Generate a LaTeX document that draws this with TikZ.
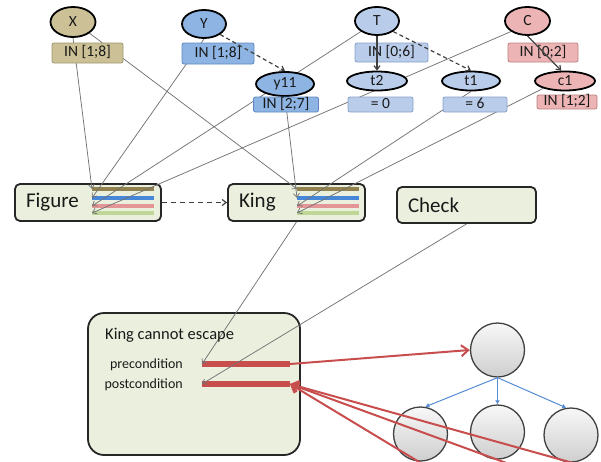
\documentclass[tikz,border=0pt]{standalone}
\usepackage{fontspec}
\setmainfont{Carlito}
\usetikzlibrary{arrows.meta,shapes.geometric}
\definecolor{xfill}{RGB}{203,192,150}
\definecolor{xedge}{RGB}{160,150,110}
\definecolor{yfill}{RGB}{141,180,226}
\definecolor{yedge}{RGB}{95,135,195}
\definecolor{tfill}{RGB}{185,205,235}
\definecolor{tedge}{RGB}{135,160,200}
\definecolor{cfill}{RGB}{236,180,180}
\definecolor{cedge}{RGB}{190,130,130}
\definecolor{panelfill}{RGB}{235,240,222}
\definecolor{wire}{RGB}{115,115,115}
\definecolor{barred}{RGB}{200,78,78}
\definecolor{treeblue}{RGB}{85,140,210}
\definecolor{stripeolive}{RGB}{145,130,80}
\definecolor{stripeblue}{RGB}{70,135,215}
\definecolor{stripepink}{RGB}{228,150,150}
\definecolor{stripegreen}{RGB}{190,215,150}
\pgfdeclarelayer{back}
\pgfdeclarelayer{wires}
\pgfsetlayers{back,wires,main}

\begin{document}
\begin{tikzpicture}[x=1pt,y=-1pt,
  var/.style={ellipse,draw=black,line width=1.8pt,inner sep=0pt,
    font=\fontsize{15.5}{18}\selectfont,text=black!90},
  dom/.style={rectangle,rounded corners=2pt,line width=0.8pt,inner sep=0pt,
    text height=9.5pt,text depth=2.5pt,font=\fontsize{15.5}{18}\selectfont,text=black!90},
  panel/.style={rectangle,rounded corners=5pt,draw=black!85,line width=1.8pt,
    fill=panelfill,inner xsep=11pt,align=left,
    font=\fontsize{21}{25}\selectfont,text=black!90},
  wirearrow/.style={draw=wire,line width=0.75pt,-{Straight Barb[length=4pt,width=6pt]}},
  stripe/.style={line width=3.5pt},
  bar/.style={draw=barred,line width=6pt},
  redarrow/.style={draw=barred,line width=2pt,
    -{Straight Barb[length=7pt,width=11pt,line width=2pt]}},
  treenode/.style={circle,draw=black!75,line width=1.3pt,top color=gray!6,
    bottom color=gray!38,minimum size=54pt,inner sep=0pt},
  treeedge/.style={draw=treeblue,line width=1pt,-{Latex[length=4pt,width=5pt]}},
  link/.style={draw=black!75,line width=1.2pt,-{Straight Barb[length=4pt,width=6pt]}},
  condtext/.style={inner sep=0pt,text=black!90},
]
\useasboundingbox (0,0) rectangle (601,461);
\clip (0,0) rectangle (601,461);

% ---- variables and their domains
\node[var,fill=xfill,minimum width=45pt,minimum height=30pt] (X) at (73,22) {X};
\node[dom,fill=xfill,draw=xedge,minimum width=71pt,minimum height=20pt] (Xd) at (87.5,53) {IN [1;8]};

\node[var,fill=yfill,minimum width=44pt,minimum height=28pt] (Y) at (204,24) {Y};
\node[dom,fill=yfill,draw=yedge,minimum width=72pt,minimum height=21pt] (Yd) at (218,53.5) {IN [1;8]};
\node[var,fill=yfill,minimum width=58pt,minimum height=24pt] (y11) at (285,84) {y11};
\node[dom,fill=yfill,draw=yedge,minimum width=65pt,minimum height=15pt] (y11d) at (286,104.5) {IN [2;7]};

\node[var,fill=tfill,minimum width=44pt,minimum height=28pt] (T) at (377,21) {T};
\node[dom,fill=tfill,draw=tedge,minimum width=73pt,minimum height=19pt] (Td) at (391.5,52.5) {IN [0;6]};
\node[var,fill=tfill,minimum width=60pt,minimum height=19pt] (t2) at (377,81) {t2};
\node[dom,fill=tfill,draw=tedge,minimum width=65pt,minimum height=15pt] (t2d) at (380.5,104.5) {= 0};
\node[var,fill=tfill,minimum width=58pt,minimum height=19pt] (t1) at (471,81) {t1};
\node[dom,fill=tfill,draw=tedge,minimum width=64pt,minimum height=15pt] (t1d) at (475,104.5) {= 6};

\node[var,fill=cfill,minimum width=45pt,minimum height=28pt] (C) at (527.5,21) {C};
\node[dom,fill=cfill,draw=cedge,minimum width=70pt,minimum height=19pt] (Cd) at (543,52.5) {IN [0;2]};
\node[var,fill=cfill,minimum width=60pt,minimum height=19pt] (c1) at (565,81) {c1};
\node[dom,fill=cfill,draw=cedge,minimum width=60pt,minimum height=14pt] (c1d) at (567,102) {IN [1;2]};

% ---- constraint panels, condition box and tree
\begin{pgfonlayer}{back}
\node[panel,text width=124pt,minimum height=37pt] (fig) at (88,202.5) {Figure};
\node[panel,text width=115pt,minimum height=37pt] (king) at (296.5,202.5) {King};
\node[panel,text width=117pt,minimum height=36pt] (check) at (466.5,205) {Check};
\node[rectangle,rounded corners=16pt,draw=black!85,line width=1.8pt,fill=panelfill,
  minimum width=212pt,minimum height=142pt] (cond) at (194,384) {};

\coordinate (fa) at (92,189); \coordinate (fb) at (92,198);
\coordinate (fc) at (92,206); \coordinate (fd) at (92,213);
\coordinate (ka) at (297,189); \coordinate (kb) at (297,198);
\coordinate (kc) at (297,206); \coordinate (kd) at (297,213);
\foreach \p in {f,k}{
  \draw[stripe,stripeolive] (\p a) -- +(62,0);
  \draw[stripe,stripeblue] (\p b) -- +(62,0);
  \draw[stripe,stripepink] (\p c) -- +(62,0);
  \draw[stripe,stripegreen] (\p d) -- +(62,0);
}

\node[treenode] (root) at (497.5,350) {};
\node[treenode] (cl) at (420.5,434) {};
\node[treenode] (cm) at (497.5,432) {};
\node[treenode] (cr) at (571,435) {};
\end{pgfonlayer}

\node[condtext,anchor=base west,font=\fontsize{16.5}{19}\selectfont] (title) at (105,339) {King cannot escape};
\node[condtext,anchor=base east,font=\fontsize{14}{17}\selectfont] (pre) at (183,368) {precondition};
\node[condtext,anchor=base east,font=\fontsize{14}{17}\selectfont] (post) at (183,388) {postcondition};

\coordinate (preL) at (202,364); \coordinate (preR) at (290,364);
\coordinate (postL) at (202,384); \coordinate (postR) at (290,384);
\coordinate (e1) at (449,480); \coordinate (e2) at (553,480); \coordinate (e3) at (634,480);

% ---- wires from variables into constraints
\begin{pgfonlayer}{wires}
\draw[bar] (preL) -- (preR);
\draw[bar] (postL) -- (postR);
\draw[wirearrow] (X.south) -- (fa);
\draw[wirearrow] (X.south east) -- (ka);
\draw[wirearrow] (Y.south) -- (fb);
\draw[wirearrow] (T.south west) -- (fc);
\draw[wirearrow] (C.south west) -- (fd);
\draw[wirearrow] (y11.south) -- (kb);
\draw[wirearrow] (t1.south) -- (kc);
\draw[wirearrow] (c1.south west) -- (kd);
\draw[wirearrow] (king.south) -- (preL);
\draw[wirearrow] (check.south) -- (postL);
\end{pgfonlayer}

% ---- links between variables
\draw[link,dash pattern=on 4pt off 3pt] (Y.south east) -- (y11.north);
\draw[link,dash pattern=on 4pt off 3pt] (T.south east) -- (t1.north);
\draw[link] (T.south) -- (t2.north);
\draw[link] (C.south) -- (c1.110);
\draw[link,dash pattern=on 5pt off 4pt] (fig.east) -- (king.west);

% ---- tree
\draw[treeedge] (root.south) -- (cl.80);
\draw[treeedge] (root.south) -- (cm.north);
\draw[treeedge] (root.south) -- (cr.100);

\draw[redarrow] (preR) -- (root.west);
\draw[redarrow] (e1) -- (postR);
\draw[redarrow] (e2) -- (postR);
\draw[redarrow] (e3) -- (postR);
\end{tikzpicture}
\end{document}
